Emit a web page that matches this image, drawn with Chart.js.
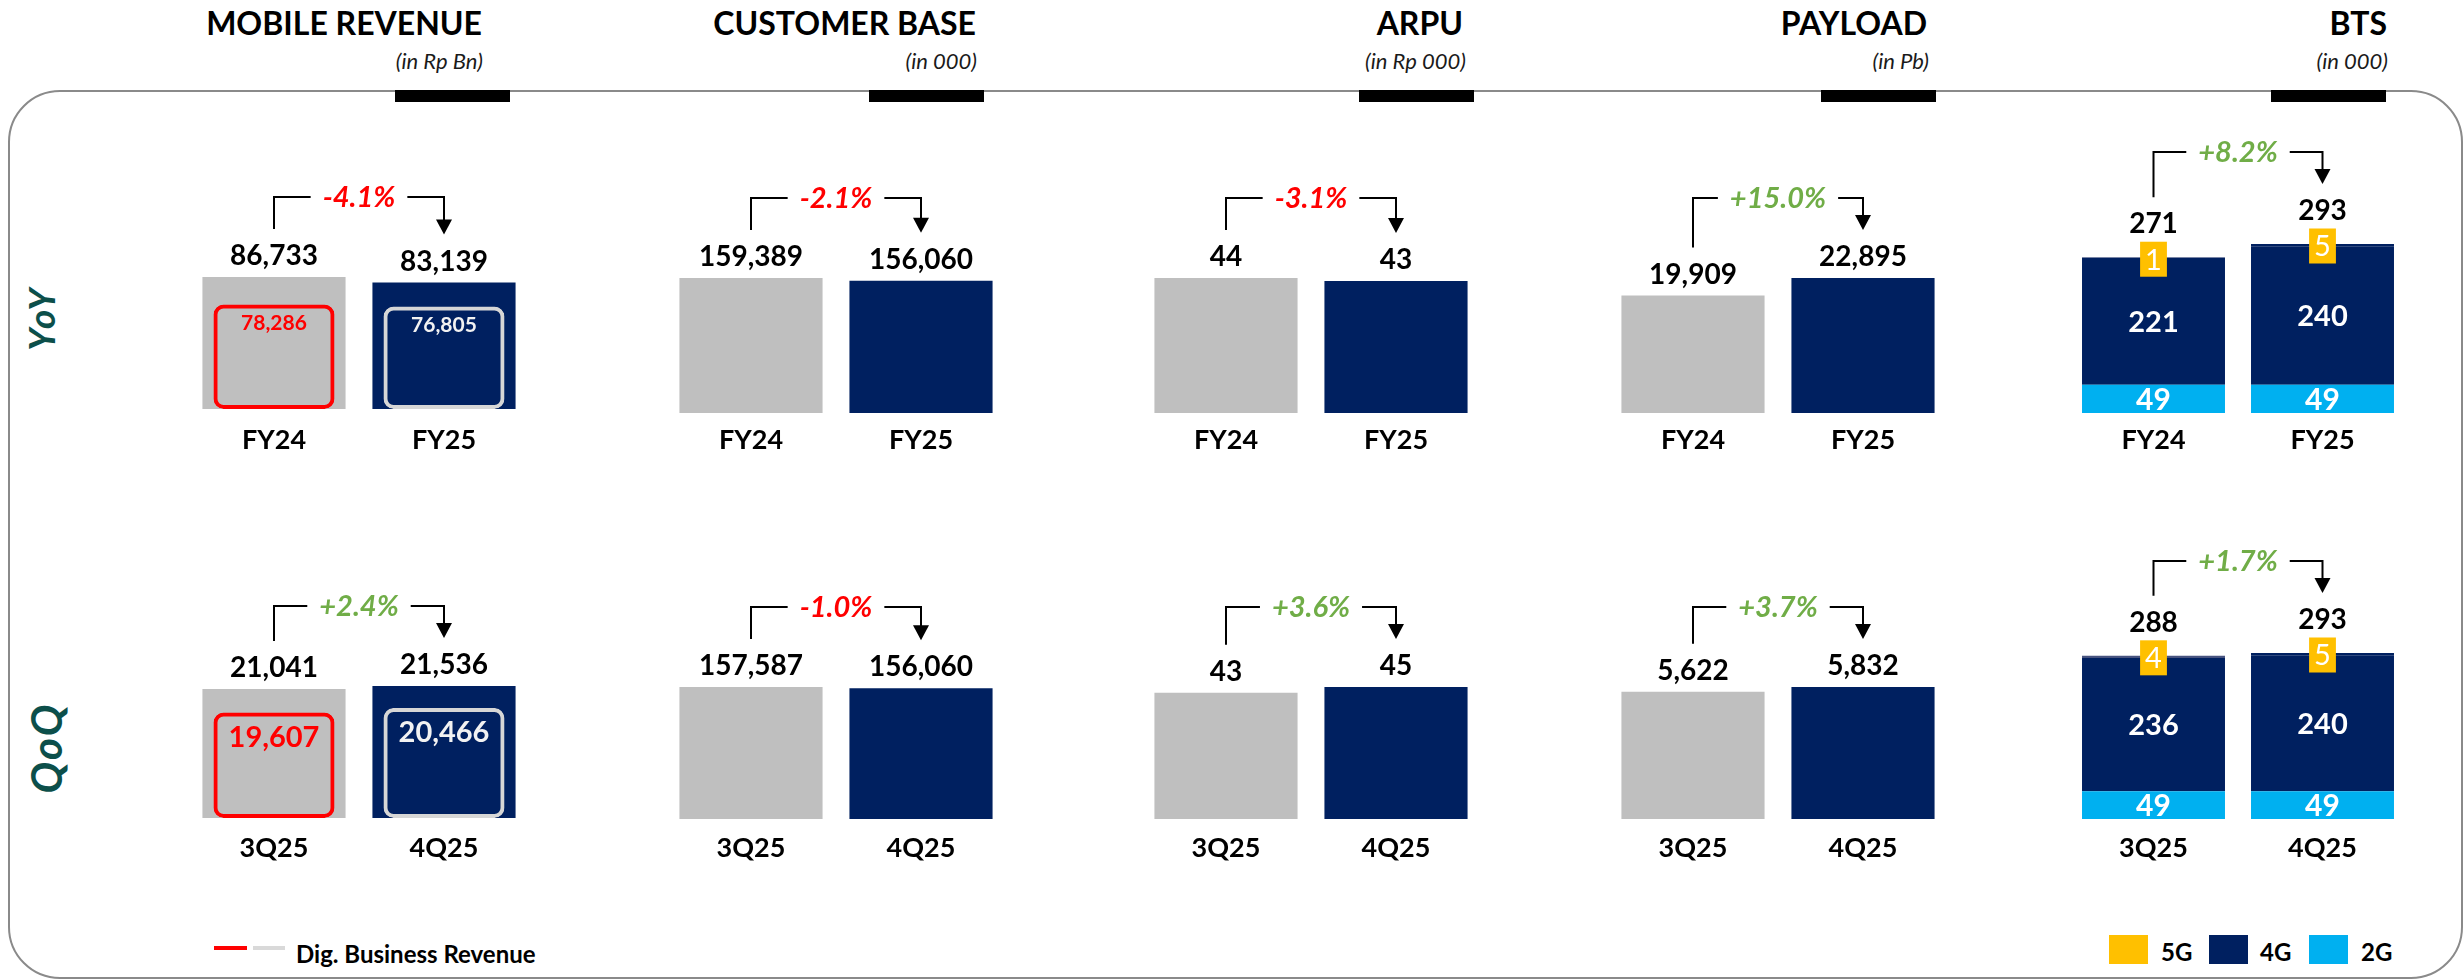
<!DOCTYPE html>
<html>
<head>
<meta charset="utf-8">
<title>Mobile KPIs</title>
<script src="https://cdn.jsdelivr.net/npm/chart.js@4.4.1/dist/chart.umd.min.js"></script>
<style>
  html, body { margin: 0; padding: 0; background: #ffffff; }
  body { position: relative; width: 2464px; height: 980px; overflow: hidden; font-family: Lato, "Open Sans", sans-serif; color: #000; }
  .frame { position: absolute; left: 8px; top: 90px; width: 2455px; height: 889px; box-sizing: border-box; border: 2px solid #8a8a8a; border-radius: 52px; }
  .title { position: absolute; top: 5px; font-size: 32px; line-height: 36px; font-weight: 700; white-space: nowrap; }
  .unit { position: absolute; top: 48px; font-size: 22px; line-height: 26px; font-style: italic; white-space: nowrap; color: #1a1a1a; }
  .tab { position: absolute; top: 90px; width: 115px; height: 12px; background: #000; }
  .period { position: absolute; width: 120px; height: 44px; line-height: 44px; text-align: center; font-size: 37px; letter-spacing: 3px; font-weight: 700; font-style: italic; color: #0c4f4a; transform: rotate(-90deg); }
  canvas { position: absolute; }
  .swatch { position: absolute; }
  .key { position: absolute; font-weight: 700; white-space: nowrap; line-height: 28px; }
</style>
</head>
<body>
<div class="frame"></div>

<div class="title" style="right:1982px">MOBILE REVENUE</div>
<div class="unit" style="right:1981px">(in Rp Bn)</div>
<div class="tab" style="left:395px"></div>

<div class="title" style="right:1488px">CUSTOMER BASE</div>
<div class="unit" style="right:1487px">(in 000)</div>
<div class="tab" style="left:869px"></div>

<div class="title" style="right:1001px">ARPU</div>
<div class="unit" style="right:998px">(in Rp 000)</div>
<div class="tab" style="left:1359px"></div>

<div class="title" style="right:537px">PAYLOAD</div>
<div class="unit" style="right:535px">(in Pb)</div>
<div class="tab" style="left:1821px"></div>

<div class="title" style="right:77px">BTS</div>
<div class="unit" style="right:76px">(in 000)</div>
<div class="tab" style="left:2271px"></div>

<div class="period" style="left:-19px; top:296px">YoY</div>
<div class="period" style="left:-14px; top:726px; letter-spacing:2px; font-size:42px">QoQ</div>

<canvas id="mobileYoY" width="340" height="360" style="left:189px; top:110px"></canvas>
<canvas id="customerYoY" width="340" height="360" style="left:666px; top:110px"></canvas>
<canvas id="arpuYoY" width="340" height="360" style="left:1141px; top:110px"></canvas>
<canvas id="payloadYoY" width="340" height="360" style="left:1608px; top:110px"></canvas>
<canvas id="btsYoY" width="338" height="360" style="left:2069px; top:110px"></canvas>

<canvas id="mobileQoQ" width="340" height="360" style="left:189px; top:520px"></canvas>
<canvas id="customerQoQ" width="340" height="360" style="left:666px; top:520px"></canvas>
<canvas id="arpuQoQ" width="340" height="360" style="left:1141px; top:520px"></canvas>
<canvas id="payloadQoQ" width="340" height="360" style="left:1608px; top:520px"></canvas>
<canvas id="btsQoQ" width="338" height="360" style="left:2069px; top:520px"></canvas>

<!-- legends -->
<div class="swatch" style="left:214px; top:946px; width:33px; height:4px; background:#ff0000"></div>
<div class="swatch" style="left:253px; top:946px; width:32px; height:4px; background:#d9d9d9"></div>
<div class="key" style="left:296px; top:940px; font-size:24px">Dig. Business Revenue</div>

<div class="swatch" style="left:2109px; top:935px; width:39px; height:29px; background:#ffc000"></div>
<div class="key" style="left:2161px; top:938px; font-size:24px">5G</div>
<div class="swatch" style="left:2209px; top:935px; width:39px; height:29px; background:#002060"></div>
<div class="key" style="left:2260px; top:938px; font-size:24px">4G</div>
<div class="swatch" style="left:2309px; top:935px; width:39px; height:29px; background:#00b0f0"></div>
<div class="key" style="left:2361px; top:938px; font-size:24px">2G</div>

<script>
const yoyLabels = ['FY24', 'FY25'];
const qoqLabels = ['3Q25', '4Q25'];

const mobileRevenueYoY = [86733, 83139];
const digitalRevenueYoY = [78286, 76805];
const mobileRevenueQoQ = [21041, 21536];
const digitalRevenueQoQ = [19607, 20466];

const customerBaseYoY = [159389, 156060];
const customerBaseQoQ = [157587, 156060];

const arpuYoY = [44, 43];
const arpuQoQ = [43, 45];

const payloadYoY = [19909, 22895];
const payloadQoQ = [5622, 5832];

const bts2gYoY = [49, 49];
const bts4gYoY = [221, 240];
const bts5gYoY = [1, 5];
const btsTotalYoY = [271, 293];
const bts2gQoQ = [49, 49];
const bts4gQoQ = [236, 240];
const bts5gQoQ = [4, 5];
const btsTotalQoQ = [288, 293];

const growthYoY = ['-4.1%', '-2.1%', '-3.1%', '+15.0%', '+8.2%'];
const growthQoQ = ['+2.4%', '-1.0%', '+3.6%', '+3.7%', '+1.7%'];

const GREY = '#bfbfbf';
const NAVY = '#002060';
const SKY = '#00b0f0';
const GOLD = '#ffc000';
const RED = '#ff0000';
const GREEN = '#70ad47';

const fmt = (v) => v.toLocaleString('en-US');

// draws the numbers, period names and the growth bracket of each panel
const calloutPlugin = {
    id: 'callout',
    afterDatasetsDraw(chart, args, opts) {
        const ctx = chart.ctx;
        const xScale = chart.scales.x;
        const metas = chart.getSortedVisibleDatasetMetas();
        const mainMetas = metas.filter(m => m.yAxisID === 'y');
        const xs = [];
        const tops = [];
        chart.data.labels.forEach((l, i) => {
            xs.push(xScale.getPixelForValue(i));
            tops.push(Math.min(...mainMetas.map(m => m.data[i].y)));
        });

        ctx.save();
        ctx.textAlign = 'center';
        ctx.textBaseline = 'middle';

        // values written inside the bars
        metas.forEach(meta => {
            const ds = chart.data.datasets[meta.index];
            const lab = ds.valueLabel;
            if (!lab) return;
            meta.data.forEach((bar, i) => {
                const text = fmt(ds.data[i]);
                ctx.font = lab.font;
                if (lab.place === 'badge') {
                    const w = ctx.measureText(text).width + 10;
                    ctx.fillStyle = GOLD;
                    ctx.fillRect(bar.x - w / 2, bar.y - 15.5, w, 35);
                    ctx.fillStyle = '#ffffff';
                    ctx.fillText(text, bar.x, bar.y + 3);
                } else if (lab.place === 'top') {
                    ctx.fillStyle = lab.color[i];
                    ctx.fillText(text, bar.x, bar.y + lab.offset);
                } else {
                    ctx.fillStyle = lab.color;
                    ctx.fillText(text, bar.x, (bar.y + bar.base) / 2 + 1);
                }
            });
        });

        // totals above the bars
        ctx.font = 'bold 28px Lato';
        ctx.fillStyle = '#000000';
        const labelY = tops.map(t => t - opts.gap);
        opts.totals.forEach((v, i) => ctx.fillText(fmt(v), xs[i], labelY[i]));

        // period names under the bars
        ctx.font = 'bold 27px Lato';
        chart.data.labels.forEach((l, i) => ctx.fillText(l, xs[i], opts.periodY));

        // growth bracket
        const lineY = Math.min(...labelY) - 59;
        const tipY = labelY[1] - 27;
        ctx.font = 'italic bold 29px Lato';
        const half = ctx.measureText(opts.growth).width / 2 + 12;
        const mid = (xs[0] + xs[1]) / 2;
        ctx.strokeStyle = '#000000';
        ctx.lineWidth = 2;
        ctx.beginPath();
        ctx.moveTo(xs[0], labelY[0] - 27);
        ctx.lineTo(xs[0], lineY);
        ctx.lineTo(mid - half, lineY);
        ctx.moveTo(mid + half, lineY);
        ctx.lineTo(xs[1], lineY);
        ctx.lineTo(xs[1], tipY - 12);
        ctx.stroke();
        ctx.beginPath();
        ctx.moveTo(xs[1] - 8, tipY - 15);
        ctx.lineTo(xs[1] + 8, tipY - 15);
        ctx.lineTo(xs[1], tipY);
        ctx.closePath();
        ctx.fillStyle = '#000000';
        ctx.fill();
        ctx.fillStyle = opts.growth.charAt(0) === '-' ? RED : GREEN;
        ctx.fillText(opts.growth, mid, lineY + 1);

        ctx.restore();
    }
};

function panel(id, labels, datasets, scales, pad, callout) {
    return new Chart(document.getElementById(id), {
        type: 'bar',
        data: {
            labels: labels,
            datasets: datasets
        },
        options: {
            responsive: false,
            animation: false,
            layout: {
                padding: { top: pad[0], bottom: pad[1], left: 0, right: 0 }
            },
            plugins: {
                legend: { display: false },
                tooltip: { enabled: false },
                callout: callout
            },
            scales: scales
        },
        plugins: [calloutPlugin]
    });
}

function simpleSet(label, values) {
    return {
        label: label,
        data: values,
        backgroundColor: [GREY, NAVY],
        barPercentage: 0.842,
        categoryPercentage: 1,
        grouped: false,
        order: 2
    };
}

function simpleScales(values) {
    return {
        x: { display: false, stacked: true },
        y: { display: false, stacked: true, min: 0, max: Math.max(...values) }
    };
}

function mobileSets(values, digital, font, offset) {
    return [
        simpleSet('Mobile Revenue', values),
        {
            label: 'Dig. Business Revenue',
            data: digital,
            yAxisID: 'yDig',
            backgroundColor: 'rgba(0, 0, 0, 0)',
            borderColor: [RED, '#d6d6d6'],
            borderWidth: 4,
            borderRadius: 10,
            borderSkipped: false,
            barPercentage: 0.712,
            categoryPercentage: 1,
            grouped: false,
            order: 1,
            valueLabel: { place: 'top', font: font, offset: offset, color: [RED, '#f2f2f2'] }
        }
    ];
}

function mobileScales(values) {
    const s = simpleScales(values);
    // the digital box sits on its own, slightly compressed scale
    s.yDig = { display: false, min: 0, max: Math.max(...values) * 1.14 };
    return s;
}

function btsSets(g2, g4, g5) {
    return [
        { label: '2G', data: g2, backgroundColor: SKY, barPercentage: 0.846, categoryPercentage: 1,
          valueLabel: { place: 'center', font: 'bold 30px Lato', color: '#ffffff' } },
        { label: '4G', data: g4, backgroundColor: NAVY, barPercentage: 0.846, categoryPercentage: 1,
          valueLabel: { place: 'center', font: 'bold 29px Lato', color: '#ffffff' } },
        { label: '5G', data: g5, backgroundColor: ['#47537f', NAVY], barPercentage: 0.846, categoryPercentage: 1,
          valueLabel: { place: 'badge', font: '29px Lato' } }
    ];
}

function btsScales(g2, g4, g5) {
    const sums = g2.map((v, i) => v + g4[i] + g5[i]);
    return {
        x: { display: false, stacked: true },
        y: { display: false, stacked: true, min: 0, max: Math.max(...sums) }
    };
}

window.addEventListener("load", (event) => {

    //YoY row
    panel('mobileYoY', yoyLabels,
        mobileSets(mobileRevenueYoY, digitalRevenueYoY, 'bold 21px Lato', 19),
        mobileScales(mobileRevenueYoY), [167, 61],
        { growth: growthYoY[0], totals: mobileRevenueYoY, gap: 21, periodY: 330 });

    panel('customerYoY', yoyLabels, [simpleSet('Customer Base', customerBaseYoY)],
        simpleScales(customerBaseYoY), [168, 57],
        { growth: growthYoY[1], totals: customerBaseYoY, gap: 21, periodY: 330 });

    panel('arpuYoY', yoyLabels, [simpleSet('ARPU', arpuYoY)],
        simpleScales(arpuYoY), [168, 57],
        { growth: growthYoY[2], totals: arpuYoY, gap: 21, periodY: 330 });

    panel('payloadYoY', yoyLabels, [simpleSet('Payload', payloadYoY)],
        simpleScales(payloadYoY), [168, 57],
        { growth: growthYoY[3], totals: payloadYoY, gap: 21, periodY: 330 });

    panel('btsYoY', yoyLabels, btsSets(bts2gYoY, bts4gYoY, bts5gYoY),
        btsScales(bts2gYoY, bts4gYoY, bts5gYoY), [134, 57],
        { growth: growthYoY[4], totals: btsTotalYoY, gap: 33, periodY: 330 });

    //QoQ row
    panel('mobileQoQ', qoqLabels,
        mobileSets(mobileRevenueQoQ, digitalRevenueQoQ, 'bold 29px Lato', 25),
        mobileScales(mobileRevenueQoQ), [166, 62],
        { growth: growthQoQ[0], totals: mobileRevenueQoQ, gap: 21, periodY: 328 });

    panel('customerQoQ', qoqLabels, [simpleSet('Customer Base', customerBaseQoQ)],
        simpleScales(customerBaseQoQ), [167, 61],
        { growth: growthQoQ[1], totals: customerBaseQoQ, gap: 21, periodY: 328 });

    panel('arpuQoQ', qoqLabels, [simpleSet('ARPU', arpuQoQ)],
        simpleScales(arpuQoQ), [167, 61],
        { growth: growthQoQ[2], totals: arpuQoQ, gap: 21, periodY: 328 });

    panel('payloadQoQ', qoqLabels, [simpleSet('Payload', payloadQoQ)],
        simpleScales(payloadQoQ), [167, 61],
        { growth: growthQoQ[3], totals: payloadQoQ, gap: 21, periodY: 328 });

    panel('btsQoQ', qoqLabels, btsSets(bts2gQoQ, bts4gQoQ, bts5gQoQ),
        btsScales(bts2gQoQ, bts4gQoQ, bts5gQoQ), [133, 61],
        { growth: growthQoQ[4], totals: btsTotalQoQ, gap: 33, periodY: 328 });
});
</script>
</body>
</html>
